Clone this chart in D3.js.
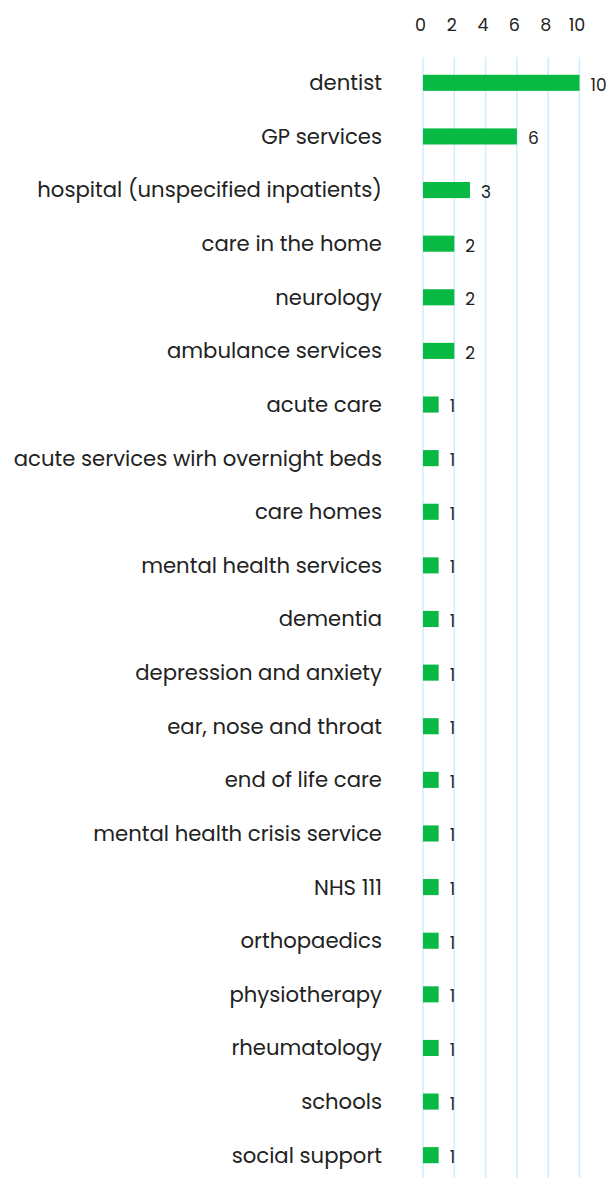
<!DOCTYPE html>
<html><head><meta charset="utf-8">
<script src="https://cdn.jsdelivr.net/npm/d3@7"></script>
<style>body{margin:0;background:#fff}text{font-family:"Poppins","Noto Sans",sans-serif}</style>
</head><body><svg id="c" width="613" height="1178"></svg>
<script>
const categories = ["dentist","GP services","hospital (unspecified inpatients)","care in the home","neurology","ambulance services","acute care","acute services wirh overnight beds","care homes","mental health services","dementia","depression and anxiety","ear, nose and throat","end of life care","mental health crisis service","NHS 111","orthopaedics","physiotherapy","rheumatology","schools","social support"];
const values = [10,6,3,2,2,2,1,1,1,1,1,1,1,1,1,1,1,1,1,1,1];
const tickValues = [0,2,4,6,8,10];

const svg = d3.select("#c");
const x = d3.scaleLinear().domain([0,10]).range([423,579.5]);
const y = d3.scaleBand().domain(categories).range([56,1182]).paddingInner(0.7).paddingOuter(0.35);

// gridlines
svg.append("g").selectAll("line").data(tickValues).join("line")
  .attr("x1",d=>x(d)).attr("x2",d=>x(d)).attr("y1",57).attr("y2",1178)
  .attr("stroke","#cdeefd").attr("stroke-width",1.5);

// top axis labels
const ax = svg.append("g").attr("transform","translate(-3,0)")
  .call(d3.axisTop(x).tickValues(tickValues).tickSize(0).tickPadding(0));
ax.select(".domain").remove();
ax.selectAll("text").attr("y",31).attr("font-size",17.5).attr("fill","#222")
  .style("font-family",'"Poppins","Noto Sans",sans-serif');

// bars
svg.append("g").selectAll("rect").data(categories).join("rect")
  .attr("x",x(0)).attr("y",d=>y(d)).attr("height",y.bandwidth())
  .attr("width",(d,i)=>x(values[i])-x(0)).attr("fill","#08b943");

// category labels
svg.append("g").selectAll("text").data(categories).join("text")
  .attr("x",382).attr("y",d=>y(d)+y.bandwidth()/2).attr("dy","0.35em")
  .attr("text-anchor","end").attr("font-size",21.2).attr("fill","#222").text(d=>d);

// value labels
svg.append("g").selectAll("text").data(categories).join("text")
  .attr("x",(d,i)=>x(values[i])+11).attr("y",d=>y(d)+y.bandwidth()/2+2).attr("dy","0.35em")
  .attr("font-size",17).attr("fill","#222").text((d,i)=>values[i]);
</script></body></html>
